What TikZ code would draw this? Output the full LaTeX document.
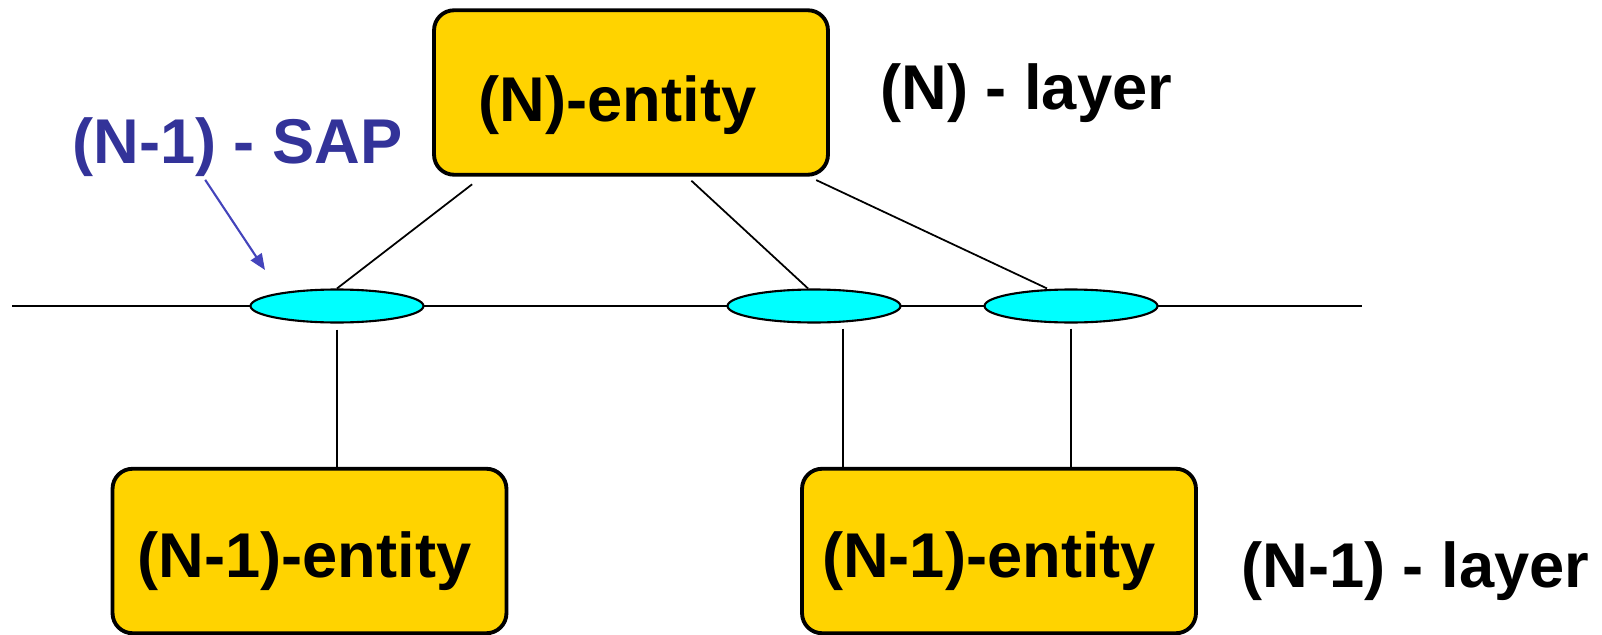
\documentclass[tikz,border=0pt]{standalone}
\usepackage{fontspec}
\setmainfont{Liberation Sans}
\usetikzlibrary{shapes.geometric,arrows.meta}
\definecolor{entitygold}{RGB}{255,211,0}
\definecolor{sapcyan}{RGB}{0,255,255}
\definecolor{sapblue}{RGB}{51,51,153}
\definecolor{arrowblue}{RGB}{68,68,187}
\newcommand{\bigbold}{\bfseries\fontsize{36}{40}\selectfont}
\tikzset{entity/.style={draw,line width=2.2pt,rounded corners=0.4cm,fill=entitygold,minimum width=7.88cm,minimum height=3.29cm,font=\bigbold,text depth=0pt}}
\tikzset{sap/.style={draw,ellipse,fill=sapcyan,line width=1.2pt,minimum width=3.46cm,minimum height=0.66cm,inner sep=0pt}}
\tikzset{layer/.style={font=\bigbold,inner sep=0pt,anchor=base west}}
\tikzset{link/.style={line width=1pt}}
\tikzset{pointer/.style={draw=arrowblue,line width=1.2pt,-{Triangle[length=0.32cm,width=0.26cm]}}}

\begin{document}
\begin{tikzpicture}[x=0.02cm,y=-0.02cm]
        \useasboundingbox (0,0) rectangle (1602,635);
        % boundary between the two layers
        \coordinate (west) at (12,306);
        \coordinate (east) at (1362,306);
            \path[draw,link] (west) -- (east);
        \node[entity,text height=1.18cm] (nent) at (631,92.5) {(N)-entity\kern0.54cm};
        \node[entity,text height=1.04cm] (lent) at (309.5,551) {(N-1)-entity\kern0.2cm};
        \node[entity,text height=1.04cm] (rent) at (999,551) {(N-1)-entity\kern0.4cm};
        \node[sap] (sap1) at (337,306) {};
        \node[sap] (sap2) at (814,306) {};
        \node[sap] (sap3) at (1071,306) {};
            \path[draw,link,shorten <=0.25cm] ([xshift=-2.98cm]nent.south) -- (sap1.north);
            \path[draw,link,shorten <=0.12cm] ([xshift=1.12cm]nent.south) -- ([xshift=-0.12cm]sap2.north);
            \path[draw,link,shorten <=0.16cm] ([xshift=3.56cm]nent.south) -- ([xshift=-0.48cm]sap3.north);
            \path[draw,link,shorten <=0.12cm] (sap1.south) -- (sap1.south |- lent.north);
            \path[draw,link,shorten <=0.1cm] ([xshift=0.58cm]sap2.south) -- ([xshift=0.58cm]sap2.south |- rent.north);
            \path[draw,link,shorten <=0.1cm] (sap3.south) -- (sap3.south |- rent.north);
        % layer names and the SAP pointer
        \node[layer] (nlayer) at (880,110) {(N) - layer};
        \node[layer] (llayer) at (1241,587) {(N-1) - layer};
        \node[layer,text=sapblue] (saplabel) at (72,163) {(N-1) - SAP};
        \coordinate (saptip) at (265,270);
            \path[pointer,shorten <=0.08cm] ([xshift=2.62cm]saplabel.south west) -- (saptip);
\end{tikzpicture}
\end{document}
